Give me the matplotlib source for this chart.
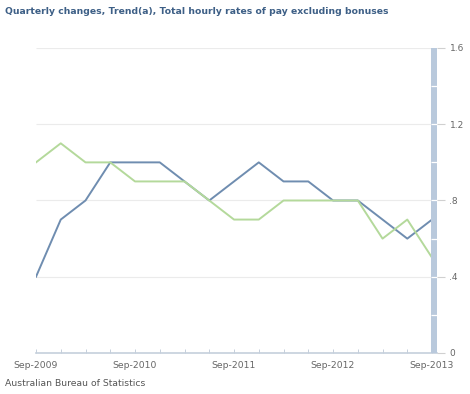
import matplotlib
matplotlib.use('Agg')
import matplotlib.pyplot as plt
import numpy as np

# quarterly changes, Sep-2009 .. Sep-2013
quarters = ['Sep-2009', 'Dec-2009', 'Mar-2010', 'Jun-2010', 'Sep-2010', 'Dec-2010',
            'Mar-2011', 'Jun-2011', 'Sep-2011', 'Dec-2011', 'Mar-2012', 'Jun-2012',
            'Sep-2012', 'Dec-2012', 'Mar-2013', 'Jun-2013', 'Sep-2013']
blue_vals = [0.4, 0.7, 0.8, 1.0, 1.0, 1.0, 0.9, 0.8, 0.9, 1.0, 0.9, 0.9,
             0.8, 0.8, 0.7, 0.6, 0.7]
green_vals = [1.0, 1.1, 1.0, 1.0, 0.9, 0.9, 0.9, 0.8, 0.7, 0.7, 0.8, 0.8,
              0.8, 0.8, 0.6, 0.7, 0.5]
ytick_vals = [0, 0.4, 0.8, 1.2, 1.6]
ytick_labels = ['0', '.4', '.8', '1.2', '1.6']

title = 'Quarterly changes, Trend(a), Total hourly rates of pay excluding bonuses'
footer = 'Australian Bureau of Statistics'

fig = plt.figure(figsize=(4.7, 3.94), dpi=100)
ax = fig.add_axes([36/470, 41/394, 401/470, 305/394])

x = np.arange(len(quarters))
xmax = len(quarters) - 1 + 0.2

# gridlines
for yv in ytick_vals[1:]:
    ax.hlines(yv, 0, xmax, color='#ebebeb', lw=0.8, zorder=1)

ax.plot(x, blue_vals, color='#6f8db0', lw=1.4, zorder=3)
ax.plot(x, green_vals, color='#b4d99b', lw=1.4, zorder=3)

# right hand axis bar
bar_l = len(quarters) - 1 - 0.04
ax.axvspan(bar_l, xmax, color='#b9c9dc', zorder=4, lw=0)
for yv in np.arange(0.2, 1.6, 0.2):
    ax.hlines(yv, bar_l, xmax, color='white', lw=0.9, zorder=5)

ax.set_xlim(0, xmax)
ax.set_ylim(0, 1.6)

for s in ['top', 'left', 'right']:
    ax.spines[s].set_visible(False)
ax.spines['bottom'].set_color('#c5cfdb')
ax.spines['bottom'].set_linewidth(1.2)

ax.yaxis.tick_right()
ax.set_yticks(ytick_vals)
ax.set_yticklabels(ytick_labels)
ax.tick_params(axis='y', length=6, width=0.8, color='#d0d0d0', pad=3,
               labelsize=6.5, labelcolor='#666666')

ax.set_xticks(x, minor=True)
ax.set_xticks(x[::4])
ax.set_xticklabels(quarters[::4])
ax.tick_params(axis='x', which='both', direction='in', length=3, width=0.7,
               color='#c5cfdb', labelsize=6.7, labelcolor='#666666', pad=6)

fig.text(5/470, 1 - 12/394, title, fontsize=6.7, fontweight='bold',
         color='#3d5f86', va='center', ha='left')
fig.text(5/470, 1 - 384/394, footer, fontsize=6.7, color='#555555',
         va='center', ha='left')

plt.savefig('out.png', dpi=100)
